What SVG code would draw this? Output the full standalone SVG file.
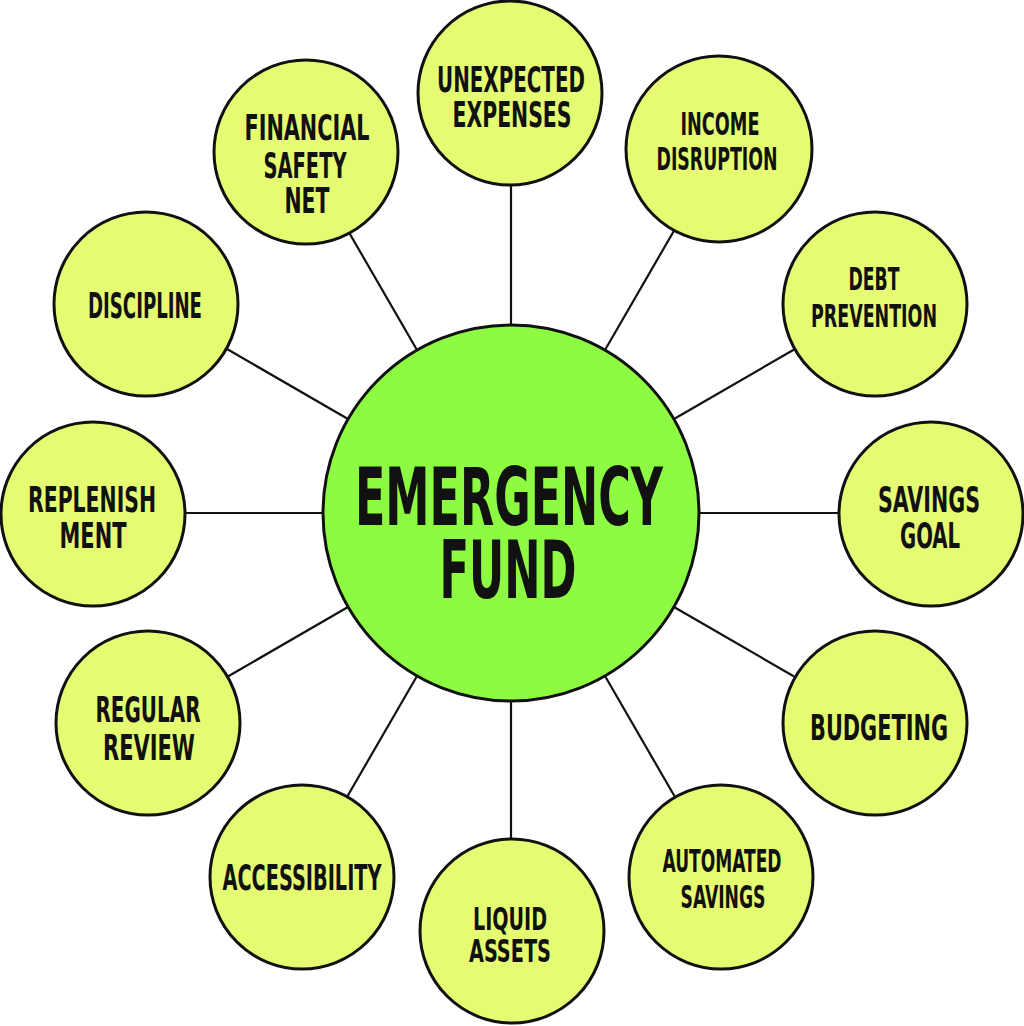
<svg xmlns="http://www.w3.org/2000/svg" width="1024" height="1026" viewBox="0 0 1024 1026">
<style>
.bg{fill:#ffffff}
.edge{stroke:#111;stroke-width:2.2;fill:none}
.leaf{fill:#e5fb71;stroke:#111;stroke-width:3}
.hub{fill:#8dfb42;stroke:#111;stroke-width:3}
text{font-family:"DejaVu Sans Condensed","Liberation Sans",sans-serif;font-weight:bold;fill:#111;text-anchor:middle}
.t{font-size:36px}
.s{font-size:32px}
.h{font-size:80px}
</style>
<rect class="bg" x="0" y="0" width="1024" height="1026"/>
<g id="connectors">
<line class="edge" x1="511" y1="325" x2="511" y2="185"/>
<line class="edge" x1="605" y1="350" x2="675" y2="229"/>
<line class="edge" x1="674" y1="419" x2="795" y2="349"/>
<line class="edge" x1="699" y1="513" x2="839" y2="513"/>
<line class="edge" x1="674" y1="607" x2="795" y2="677"/>
<line class="edge" x1="605" y1="676" x2="675" y2="797"/>
<line class="edge" x1="511" y1="701" x2="511" y2="841"/>
<line class="edge" x1="417" y1="676" x2="347" y2="797"/>
<line class="edge" x1="348" y1="607" x2="227" y2="677"/>
<line class="edge" x1="323" y1="513" x2="183" y2="513"/>
<line class="edge" x1="348" y1="419" x2="227" y2="349"/>
<line class="edge" x1="417" y1="350" x2="347" y2="229"/>
</g>
<g id="hub">
<circle class="hub" cx="511" cy="513" r="188"/>
<text class="h" x="509" y="525" textLength="308" lengthAdjust="spacingAndGlyphs">EMERGENCY</text>
<text class="h" x="508" y="598" textLength="137" lengthAdjust="spacingAndGlyphs">FUND</text>
</g>
<g id="unexpected-expenses">
<circle class="leaf" cx="510" cy="93" r="92"/>
<text class="t" x="511" y="92" textLength="148" lengthAdjust="spacingAndGlyphs">UNEXPECTED</text>
<text class="t" x="512" y="127" textLength="119" lengthAdjust="spacingAndGlyphs">EXPENSES</text>
</g>
<g id="income-disruption">
<circle class="leaf" cx="719" cy="149" r="93"/>
<text class="s" x="720" y="135" textLength="79" lengthAdjust="spacingAndGlyphs">INCOME</text>
<text class="s" x="717" y="170" textLength="121" lengthAdjust="spacingAndGlyphs">DISRUPTION</text>
</g>
<g id="debt-prevention">
<circle class="leaf" cx="875" cy="304" r="92"/>
<text class="s" x="874" y="290" textLength="51" lengthAdjust="spacingAndGlyphs">DEBT</text>
<text class="s" x="874" y="327" textLength="126" lengthAdjust="spacingAndGlyphs">PREVENTION</text>
</g>
<g id="savings-goal">
<circle class="leaf" cx="931" cy="514" r="92"/>
<text class="t" x="929" y="512" textLength="102" lengthAdjust="spacingAndGlyphs">SAVINGS</text>
<text class="t" x="930" y="548" textLength="60" lengthAdjust="spacingAndGlyphs">GOAL</text>
</g>
<g id="budgeting">
<circle class="leaf" cx="875" cy="723" r="92"/>
<text class="t" x="879" y="740" textLength="138" lengthAdjust="spacingAndGlyphs">BUDGETING</text>
</g>
<g id="automated-savings">
<circle class="leaf" cx="721" cy="877" r="92"/>
<text class="s" x="722" y="872" textLength="119" lengthAdjust="spacingAndGlyphs">AUTOMATED</text>
<text class="s" x="723" y="908" textLength="85" lengthAdjust="spacingAndGlyphs">SAVINGS</text>
</g>
<g id="liquid-assets">
<circle class="leaf" cx="512" cy="931" r="92"/>
<text class="s" x="510" y="930" textLength="74" lengthAdjust="spacingAndGlyphs">LIQUID</text>
<text class="s" x="510" y="962" textLength="82" lengthAdjust="spacingAndGlyphs">ASSETS</text>
</g>
<g id="accessibility">
<circle class="leaf" cx="302" cy="877" r="92"/>
<text class="t" x="302" y="890" textLength="159" lengthAdjust="spacingAndGlyphs">ACCESSIBILITY</text>
</g>
<g id="regular-review">
<circle class="leaf" cx="148" cy="723" r="92"/>
<text class="t" x="148" y="722" textLength="105" lengthAdjust="spacingAndGlyphs">REGULAR</text>
<text class="t" x="149" y="760" textLength="92" lengthAdjust="spacingAndGlyphs">REVIEW</text>
</g>
<g id="replenishment">
<circle class="leaf" cx="93" cy="514" r="92"/>
<text class="t" x="92" y="512" textLength="128" lengthAdjust="spacingAndGlyphs">REPLENISH</text>
<text class="t" x="93" y="548" textLength="67" lengthAdjust="spacingAndGlyphs">MENT</text>
</g>
<g id="discipline">
<circle class="leaf" cx="146" cy="304" r="92"/>
<text class="t" x="145" y="318" textLength="114" lengthAdjust="spacingAndGlyphs">DISCIPLINE</text>
</g>
<g id="financial-safety-net">
<circle class="leaf" cx="306" cy="152" r="92"/>
<text class="t" x="307" y="140" textLength="125" lengthAdjust="spacingAndGlyphs">FINANCIAL</text>
<text class="t" x="305" y="178" textLength="83" lengthAdjust="spacingAndGlyphs">SAFETY</text>
<text class="t" x="307" y="213" textLength="45" lengthAdjust="spacingAndGlyphs">NET</text>
</g>
</svg>
